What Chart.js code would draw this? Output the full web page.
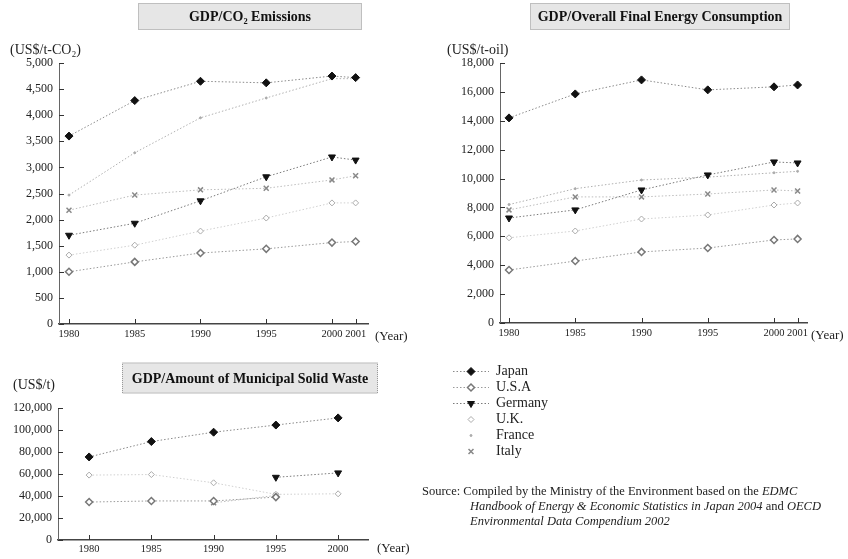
<!DOCTYPE html>
<html><head><meta charset="utf-8">
<script src="https://cdn.jsdelivr.net/npm/chart.js@4.4.1/dist/chart.umd.min.js"></script>
<style>
html,body{margin:0;padding:0;background:#fff;}
body{width:848px;height:559px;position:relative;overflow:hidden;font-family:"Liberation Serif",serif;}
canvas{position:absolute;}
#source{position:absolute;left:422px;top:484px;font-size:12.5px;line-height:15px;color:#222;white-space:nowrap;}
#source .l2{padding-left:48px;}
</style></head><body>
<canvas id="c1" width="420" height="350" style="left:0;top:0"></canvas>
<canvas id="c2" width="428" height="350" style="left:420px;top:0"></canvas>
<canvas id="c3" width="420" height="209" style="left:0;top:350px"></canvas>
<canvas id="c4" width="150" height="230" style="left:451px;top:362px"></canvas>
<div id="source">Source: Compiled by the Ministry of the Environment based on the <i>EDMC</i><br>
<span class="l2"><i>Handbook of Energy &amp; Economic Statistics in Japan 2004</i> and <i>OECD</i></span><br>
<span class="l2"><i>Environmental Data Compendium 2002</i></span></div>
<script>
// ---------- DATA ----------
const countries = ['Japan', 'U.S.A', 'Germany', 'U.K.', 'France', 'Italy'];
const years = [1980, 1985, 1990, 1995, 2000, 2001];
const wasteYears = [1980, 1985, 1990, 1995, 2000];

// GDP / CO2 emissions (US$/t-CO2)
const co2Japan   = [3600, 4280, 4650, 4620, 4750, 4720];
const co2USA     = [1000, 1190, 1360, 1440, 1560, 1580];
const co2Germany = [1700, 1930, 2360, 2820, 3200, 3140];
const co2UK      = [1320, 1510, 1780, 2030, 2320, 2320];
const co2France  = [2470, 3280, 3950, 4330, 4700, 4700];
const co2Italy   = [2180, 2470, 2570, 2600, 2760, 2840];
const co2Ticks   = [0, 500, 1000, 1500, 2000, 2500, 3000, 3500, 4000, 4500, 5000];

// GDP / overall final energy consumption (US$/t-oil)
const enJapan   = [14200, 15860, 16830, 16140, 16350, 16480];
const enUSA     = [3670, 4290, 4920, 5190, 5750, 5820];
const enGermany = [7270, 7830, 9210, 10250, 11150, 11080];
const enUK      = [5900, 6370, 7200, 7480, 8170, 8310];
const enFrance  = [8200, 9300, 9900, 10100, 10400, 10500];
const enItaly   = [7830, 8730, 8730, 8930, 9210, 9140];
const enTicks   = [0, 2000, 4000, 6000, 8000, 10000, 12000, 14000, 16000, 18000];

// GDP / amount of municipal solid waste (US$/t)
const wsJapan   = [75500, 89500, 98000, 104500, 111000];
const wsUSA     = [34500, 35500, 35500, 39000, null];
const wsGermany = [null, null, null, 57000, 61000];
const wsUK      = [59000, 59500, 52000, 41500, 42000];
const wsFrance  = [null, null, null, null, null];
const wsItaly   = [null, null, 33800, 40500, null];
const wsTicks   = [0, 20000, 40000, 60000, 80000, 100000, 120000];

// ---------- STYLES ----------
const FONT = '"Liberation Serif", serif';
const TXT = '#222';
const styles = [
  {line:'#8a8a8a', ps:'rectRot', r:4,   fill:'#111', stroke:'#111', bw:1, rot:0,   legendLine:true},
  {line:'#9a9a9a', ps:'rectRot', r:3.5, fill:'#fff', stroke:'#777', bw:1.5, rot:0, legendLine:true},
  {line:'#7a7a7a', ps:'triangle',r:4,   fill:'#111', stroke:'#111', bw:1, rot:180, legendLine:true},
  {line:'#d0d0d0', ps:'rectRot', r:3,   fill:'#fff', stroke:'#aaa', bw:1, rot:0,   legendLine:false},
  {line:'#b0b0b0', ps:'circle',  r:1,   fill:'#aaa', stroke:'#aaa', bw:1, rot:0,   legendLine:false},
  {line:'#bdbdbd', ps:'crossRot',r:3.5, fill:'#888', stroke:'#888', bw:1.5, rot:0, legendLine:false}
];

// ---------- warped linear scale (2001 drawn wider apart, as in the original) ----------
class WarpScale extends Chart.LinearScale {
  _w(v){ const o=this.options; return (o.warpFrom!=null && v>o.warpFrom) ? o.warpFrom+(v-o.warpFrom)*o.warpFactor : v; }
  getPixelForValue(v){ return v==null ? NaN : super.getPixelForValue(this._w(v)); }
}
WarpScale.id = 'warp';
WarpScale.defaults = Chart.LinearScale.defaults;
Chart.register(WarpScale);

const decor = {
  id: 'decor',
  afterDraw(chart, args, o) {
    if (!o || !o.title) return;
    const {ctx, chartArea: a} = chart;
    const xs = chart.scales.x, ys = chart.scales.y;
    ctx.save();
    // title box
    const bx = o.tx - o.bw/2, by = o.ty - o.bh/2;
    ctx.fillStyle = '#e6e6e6';
    ctx.fillRect(bx, by, o.bw, o.bh);
    ctx.setLineDash([1,1]);
    ctx.strokeStyle = '#999';
    ctx.lineWidth = 1;
    ctx.strokeRect(bx+0.5, by+0.5, o.bw-1, o.bh-1);
    ctx.setLineDash([]);
    ctx.fillStyle = '#111';
    ctx.font = 'bold 14px ' + FONT;
    ctx.textAlign = 'center'; ctx.textBaseline = 'middle';
    ctx.fillText(o.title, o.tx, o.ty + 1);
    // units
    ctx.fillStyle = TXT;
    ctx.textAlign = 'left';
    ctx.font = '14px ' + FONT;
    ctx.fillText(o.unitY, o.ux, o.uy);
    ctx.font = '13px ' + FONT;
    ctx.fillText('(Year)', o.yx, o.yy);
    // inward tick marks
    ctx.strokeStyle = '#333'; ctx.lineWidth = 1;
    ctx.beginPath();
    ys.ticks.forEach((t, i) => { const p = Math.round(ys.getPixelForTick(i)) + 0.5; ctx.moveTo(a.left, p); ctx.lineTo(a.left + 5, p); });
    xs.ticks.forEach((t, i) => { const p = Math.round(xs.getPixelForTick(i)) + 0.5; ctx.moveTo(p, a.bottom); ctx.lineTo(p, a.bottom - 5); });
    ctx.stroke();
    ctx.restore();
  }
};
Chart.register(decor);

function makeDatasets(xs, series) {
  return series.map((vals, i) => {
    const s = styles[i];
    return {
      label: countries[i],
      data: xs.map((x, j) => ({x: x, y: vals[j]})),
      borderColor: s.line, borderWidth: 1, borderDash: [1.5, 2],
      pointStyle: s.ps, pointRadius: s.r, pointRotation: s.rot,
      pointBackgroundColor: s.fill, pointBorderColor: s.stroke, pointBorderWidth: s.bw,
      tension: 0, spanGaps: false, fill: false
    };
  });
}

function makeChart(id, xs, series, cfg) {
  return new Chart(document.getElementById(id), {
    type: 'line',
    data: { datasets: makeDatasets(xs, series) },
    options: {
      responsive: false, animation: false,
      layout: { padding: cfg.pad },
      plugins: { legend: {display: false}, tooltip: {enabled: false}, title: {display:false}, decor: cfg.decor },
      scales: {
        x: {
          type: 'warp', min: cfg.xmin, max: cfg.xmax, warpFrom: cfg.warp ? 2000 : null, warpFactor: cfg.warp,
          afterBuildTicks: s => { s.ticks = xs.map(v => ({value: v})); },
          afterFit: s => { s.height = cfg.xh; },
          grid: {drawOnChartArea: false, drawTicks: false},
          border: {display: true, color: '#444', width: 1.5},
          ticks: {autoSkip: false, maxRotation: 0, padding: cfg.xpad, color: TXT, font: {family: FONT, size: 10.5}, callback: v => String(v)}
        },
        y: {
          type: 'linear', min: cfg.yt[0], max: cfg.yt[cfg.yt.length-1],
          afterBuildTicks: s => { s.ticks = cfg.yt.map(v => ({value: v})); },
          afterFit: s => { s.width = cfg.yw; },
          grid: {drawOnChartArea: false, drawTicks: false},
          border: {display: true, color: '#666', width: 1},
          ticks: {padding: 6, color: TXT, font: {family: FONT, size: 12}, callback: v => v.toLocaleString('en-US')}
        }
      }
    }
  });
}

makeChart('c1', years, [co2Japan, co2USA, co2Germany, co2UK, co2France, co2Italy], {
  pad: {left: 0, top: 63, right: 52, bottom: 0}, xh: 26, yw: 59, xpad: 4,
  xmin: 1979.24, xmax: 2002.74, warp: 1.8, yt: co2Ticks,
  decor: {title: 'GDP/CO\u2082 Emissions', tx: 250, ty: 16.5, bw: 224, bh: 27,
          unitY: '(US$/t-CO\u2082)', ux: 10, uy: 50, yx: 375, yy: 337}
});
makeChart('c2', years, [enJapan, enUSA, enGermany, enUK, enFrance, enItaly], {
  pad: {left: 0, top: 63, right: 41, bottom: 0}, xh: 27, yw: 80, xpad: 4,
  xmin: 1979.32, xmax: 2002.49, warp: 1.78, yt: enTicks,
  decor: {title: 'GDP/Overall Final Energy Consumption', tx: 240, ty: 16.5, bw: 260, bh: 27,
          unitY: '(US$/t-oil)', ux: 27, uy: 50, yx: 391, yy: 336}
});
makeChart('c3', wasteYears, [wsJapan, wsUSA, wsGermany, wsUK, wsFrance, wsItaly], {
  pad: {left: 0, top: 58, right: 52, bottom: 0}, xh: 19, yw: 58, xpad: 3,
  xmin: 1977.5, xmax: 2002.4, warp: null, yt: wsTicks,
  decor: {title: 'GDP/Amount of Municipal Solid Waste', tx: 250, ty: 28, bw: 256, bh: 31,
          unitY: '(US$/t)', ux: 13, uy: 35, yx: 377, yy: 199}
});

// legend chart
function legendImage(s) {
  const c = document.createElement('canvas');
  c.width = 36; c.height = 12;
  const g = c.getContext('2d');
  if (s.legendLine) {
    g.strokeStyle = s.line; g.lineWidth = 1; g.setLineDash([1.5, 2]);
    g.beginPath(); g.moveTo(0, 6.5); g.lineTo(36, 6.5); g.stroke(); g.setLineDash([]);
  }
  g.fillStyle = s.fill; g.strokeStyle = s.stroke; g.lineWidth = s.bw;
  Chart.helpers.drawPoint(g, {pointStyle: s.ps, radius: s.r, rotation: s.rot, borderWidth: s.bw}, 18, 6.5);
  return c;
}
const legendImgs = styles.map(legendImage);
new Chart(document.getElementById('c4'), {
  type: 'line',
  data: { datasets: countries.map(c => ({label: c, data: []})) },
  options: {
    responsive: false, animation: false,
    layout: {padding: 0},
    scales: {x: {display: false}, y: {display: false}},
    plugins: {
      tooltip: {enabled: false},
      legend: {
        display: true, position: 'top', align: 'start',
        labels: {
          usePointStyle: true, pointStyleWidth: 36, padding: 2, color: TXT,
          font: {family: FONT, size: 14},
          generateLabels: chart => chart.data.datasets.map((ds, i) => ({
            text: ds.label, pointStyle: legendImgs[i], fillStyle: 'transparent',
            strokeStyle: 'transparent', lineWidth: 0, hidden: false, datasetIndex: i, fontColor: TXT
          }))
        }
      }
    }
  }
});
</script>
</body></html>
